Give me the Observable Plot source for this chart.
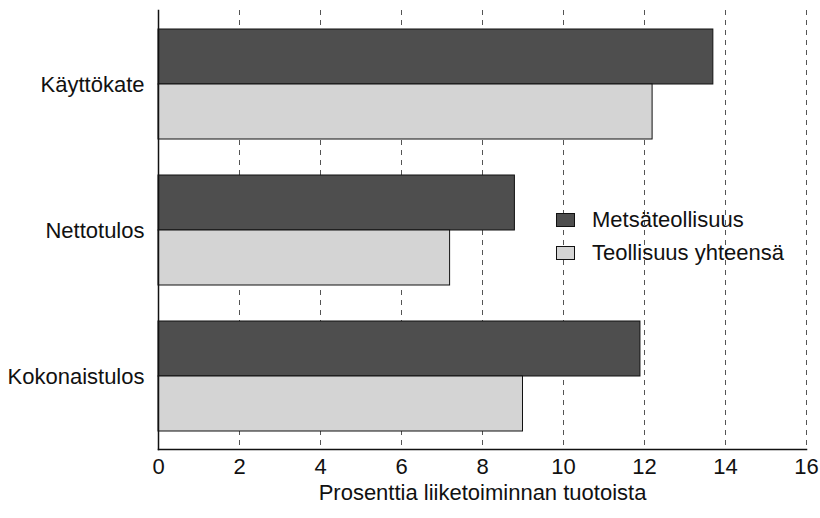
<!DOCTYPE html>
<html>
<head>
<meta charset="utf-8">
<script src="https://cdn.jsdelivr.net/npm/d3@7"></script>
<script src="https://cdn.jsdelivr.net/npm/@observablehq/plot@0.6"></script>
<style>
  body { margin: 0; background: #fff; font-family: "Liberation Sans", Arial, sans-serif; }
  #wrap { position: relative; width: 820px; height: 518px; }
  .legend { position: absolute; left: 556px; top: 203px; font-size: 22px; color: #111; line-height: 33px; }
  .legend div { display: flex; align-items: center; }
  .legend span.sw { display: inline-block; width: 17px; height: 12px; border: 1px solid #111; margin-right: 17px; }
</style>
</head>
<body>
<div id="wrap"></div>
<script>
const categories = ["Käyttökate", "Nettotulos", "Kokonaistulos"];
const seriesNames = ["Metsäteollisuus", "Teollisuus yhteensä"];
const metsa = [13.7, 8.8, 11.9];
const teollisuus = [12.2, 7.2, 9.0];
const xTicks = [0, 2, 4, 6, 8, 10, 12, 14, 16];
const xLabel = "Prosenttia liiketoiminnan tuotoista";
const colors = ["#4e4e4e", "#d4d4d4"];

const darkData = categories.map((c, i) => ({category: c, value: metsa[i]}));
const lightData = categories.map((c, i) => ({category: c, value: teollisuus[i]}));

const chart = Plot.plot({
  width: 820,
  height: 518,
  marginLeft: 158,
  marginRight: 14,
  marginTop: 10,
  marginBottom: 69,
  style: {fontFamily: "'Liberation Sans', Arial, sans-serif", fontSize: "22px", color: "#111", background: "#fff"},
  x: {domain: [0, 16]},
  y: {domain: categories, paddingInner: 0.25, paddingOuter: 0.125},
  marks: [
    Plot.ruleX(xTicks.filter(d => d > 0), {stroke: "#555", strokeWidth: 1, strokeDasharray: "5,5"}),
    Plot.barX(darkData, {x: "value", y: "category", fill: colors[0], stroke: "#111", strokeWidth: 1, insetBottom: 55}),
    Plot.barX(lightData, {x: "value", y: "category", fill: colors[1], stroke: "#111", strokeWidth: 1, insetTop: 55}),
    Plot.axisX({ticks: xTicks, tickSize: 0, tickPadding: 9, fontSize: 22, label: xLabel, labelAnchor: "center", labelOffset: 50, labelArrow: "none"}),
    Plot.axisY({tickSize: 0, tickPadding: 14, fontSize: 22, label: null}),
    Plot.frame({anchor: "left", stroke: "#111", strokeWidth: 1.5}),
    Plot.frame({anchor: "bottom", stroke: "#111", strokeWidth: 1.5})
  ]
});

const wrap = document.getElementById("wrap");
wrap.appendChild(chart);
const legend = document.createElement("div");
legend.className = "legend";
seriesNames.forEach((name, i) => {
  const row = document.createElement("div");
  const sw = document.createElement("span");
  sw.className = "sw";
  sw.style.background = colors[i];
  row.appendChild(sw);
  row.appendChild(document.createTextNode(name));
  legend.appendChild(row);
});
wrap.appendChild(legend);
</script>
</body>
</html>
